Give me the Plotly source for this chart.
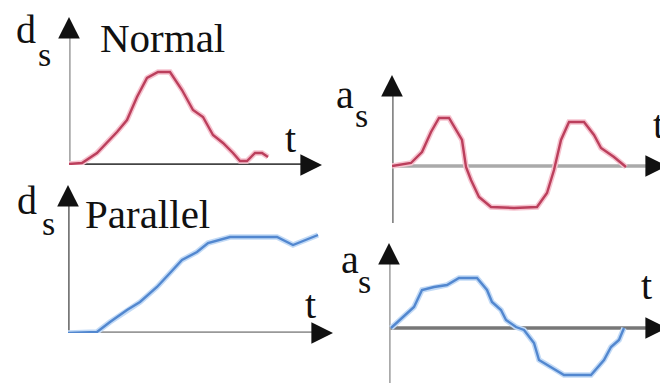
import plotly.graph_objects as go

W, H = 668, 383
OFF = 8  # page body margin in the browser
FW, FH = W - OFF, H - OFF

# ---- data (arbitrary units) ----
t_dn = [0, 13, 28, 38, 48, 58, 68, 78, 89, 101, 113, 124, 134, 144, 154, 164, 171, 178, 186, 193, 199]
d_normal = [1, 2, 12, 22, 33, 45, 68, 87, 93, 93, 75, 55, 48, 30, 22, 12, 4, 4, 12, 12, 8]

t_an = [0, 19, 30, 39, 47, 57, 70, 74, 79, 87, 99, 122, 145, 155, 162, 169, 177, 192, 202, 209, 222, 234]
a_normal = [0, 3, 14, 34, 48, 48, 26, -1, -14, -31, -41, -42, -41, -27, -4, 26, 44, 44, 31, 18, 9, -1]

t_dp = [-3, 29, 42, 59, 72, 89, 102, 114, 129, 140, 162, 209, 225, 237, 250]
d_parallel = [0, 1, 11, 23, 31, 46, 60, 73, 81, 90, 96, 96, 88, 93, 98]

t_ap = [2, 13, 25, 33, 45, 58, 70, 88, 98, 103, 112, 117, 127, 135, 145, 150, 162, 175, 202, 215, 222, 230, 235]
a_parallel = [0, 10, 21, 38, 41, 43, 50, 50, 38, 26, 18, 8, 1, -2, -15, -32, -39, -47, -47, -32, -19, -12, 0]

titles = ["Normal", "Parallel"]
RED, RED_HALO = "#bb3f5c", "#f6c3cf"
BLUE, BLUE_HALO = "#5287cf", "#c2daf6"

def px(x):
    return (x - OFF) / FW

def py(y):
    return 1 - (y - OFF) / FH

panels = [
    dict(ox=69, oy=165, xt=322, yt=17, yb=165, xr=[0, 253], yr=[0, 148],
         vcol="#aaaaaa", hcol="#444444"),
    dict(ox=392, oy=166, xt=667, yt=75, yb=223, xr=[0, 275], yr=[-57, 91],
         vcol="#888888", hcol="#aaaaaa"),
    dict(ox=68, oy=333, xt=333, yt=185, yb=333, xr=[0, 265], yr=[0, 148],
         vcol="#777777", hcol="#999999"),
    dict(ox=389, oy=328, xt=667, yt=243, yb=383, xr=[0, 278], yr=[-55, 85],
         vcol="#aaaaaa", hcol="#777777"),
]
series = [(t_dn, d_normal, RED, RED_HALO), (t_an, a_normal, RED, RED_HALO),
          (t_dp, d_parallel, BLUE, BLUE_HALO), (t_ap, a_parallel, BLUE, BLUE_HALO)]

fig = go.Figure()
layout = dict(width=FW, height=FH, margin=dict(l=0, r=0, t=0, b=0),
              paper_bgcolor="white", plot_bgcolor="rgba(0,0,0,0)",
              showlegend=False, font=dict(family="Liberation Serif"))
shapes, annos = [], []
for i, (p, (tx, ty, col, halo)) in enumerate(zip(panels, series)):
    n = "" if i == 0 else str(i + 1)
    xa, ya = "x" + n, "y" + n
    layout["xaxis" + n] = dict(domain=[px(p["ox"]), min(1, px(p["xt"]))], range=p["xr"],
                               visible=False, anchor=ya, fixedrange=True)
    layout["yaxis" + n] = dict(domain=[max(0, py(p["yb"])), py(p["yt"])], range=p["yr"],
                               visible=False, anchor=xa, fixedrange=True)
    shapes.append(dict(type="line", xref=xa, yref=ya, x0=0, x1=p["xr"][1] - 8, y0=0, y1=0,
                       line=dict(color=p["hcol"], width=3.5), layer="below"))
    shapes.append(dict(type="line", xref=xa, yref=ya, x0=0, x1=0, y0=p["yr"][0], y1=p["yr"][1] - 8,
                       line=dict(color=p["vcol"], width=3.5), layer="below"))
    annos.append(dict(xref=xa, yref=ya, x=p["xr"][1], y=0, ax=-12, ay=0, text="",
                      showarrow=True, arrowhead=2, arrowsize=1.35, arrowwidth=3.2,
                      arrowcolor="#111111"))
    annos.append(dict(xref=xa, yref=ya, x=0, y=p["yr"][1], ax=0, ay=12, text="",
                      showarrow=True, arrowhead=2, arrowsize=1.35, arrowwidth=3.2,
                      arrowcolor="#111111"))
    fig.add_trace(go.Scatter(x=tx, y=ty, mode="lines", xaxis=xa, yaxis=ya,
                             line=dict(color=halo, width=5.5), cliponaxis=False,
                             hoverinfo="skip"))
    fig.add_trace(go.Scatter(x=tx, y=ty, mode="lines", xaxis=xa, yaxis=ya,
                             line=dict(color=col, width=2.4), cliponaxis=False,
                             hoverinfo="skip"))

FONT = "Liberation Serif"

def txt(s, xpx, ypx, size=40, anchor="left"):
    annos.append(dict(xref="paper", yref="paper", x=px(xpx), y=py(ypx), text=s,
                      showarrow=False, xanchor=anchor, yanchor="middle",
                      font=dict(family=FONT, size=size, color="#111111")))

# y-axis labels
txt("d", 14, 30); txt("s", 36, 55, 34)
txt("d", 15, 200); txt("s", 40, 224, 34)
txt("a", 334, 94); txt("s", 353, 115, 34)
txt("a", 339, 259); txt("s", 356, 281, 34)
# t labels
txt("t", 283, 139); txt("t", 666, 124, anchor="right")
txt("t", 303, 304); txt("t", 639, 285)
# titles
txt(titles[0], 98, 38, 41)
txt(titles[1], 83, 214, 41)

layout["shapes"] = shapes
layout["annotations"] = annos
fig.update_layout(**layout)
fig.write_html("out.html")
